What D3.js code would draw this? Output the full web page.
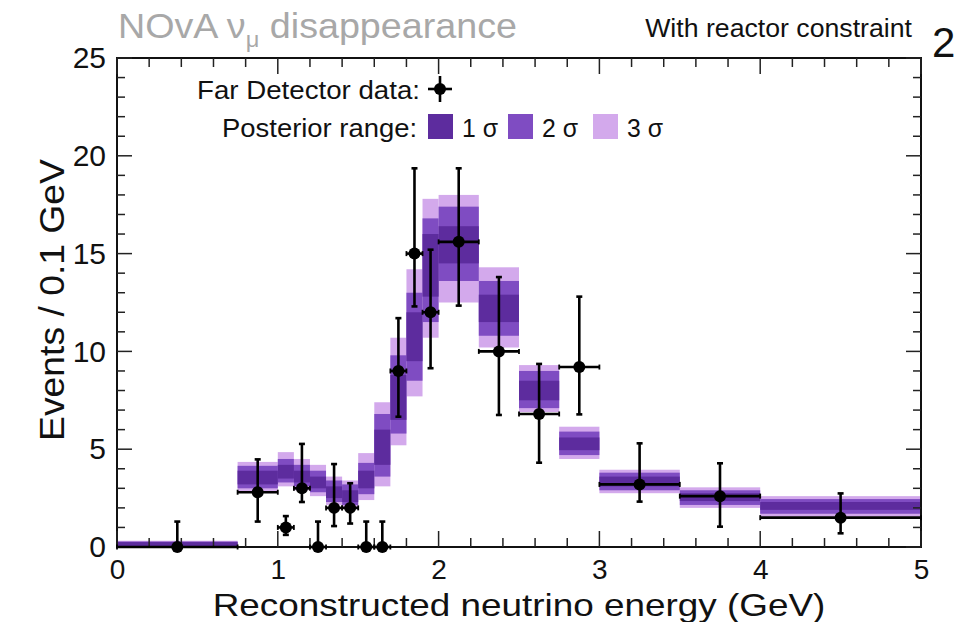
<!DOCTYPE html>
<html><head><meta charset="utf-8">
<script src="https://cdn.jsdelivr.net/npm/d3@7"></script>
<style>body{margin:0;background:#fff;} svg{display:block;font-family:"Liberation Sans",Arial,Helvetica,sans-serif;}</style>
</head><body>
<svg id="c" width="961" height="622"></svg>
<script>
// Bin edges (GeV)
const binLo = [0,0.75,1.0,1.1,1.2,1.3,1.4,1.5,1.6,1.7,1.8,1.9,2.0,2.25,2.5,2.75,3.0,3.5,4.0];
const binHi = [0.75,1.0,1.1,1.2,1.3,1.4,1.5,1.6,1.7,1.8,1.9,2.0,2.25,2.5,2.75,3.0,3.5,4.0,5.0];
// Posterior bands (events / 0.1 GeV)
const s3Lo = [0.0,2.85,3.1,2.9,2.6,2.15,2.0,2.4,3.1,5.2,7.7,10.7,12.5,10.2,6.9,4.5,2.75,2.0,1.55];
const s3Hi = [0.32,4.35,4.85,4.5,4.2,3.6,3.4,4.8,7.4,10.7,14.2,17.8,18.0,14.3,9.3,6.15,3.95,3.05,2.6];
const s2Lo = [0.02,3.0,3.3,3.1,2.8,2.3,2.15,2.7,3.6,5.8,8.5,11.5,13.6,10.8,7.1,4.7,2.9,2.15,1.7];
const s2Hi = [0.28,4.15,4.5,4.2,3.9,3.4,3.2,4.3,6.8,9.8,13.0,16.8,17.4,13.6,9.0,5.9,3.8,2.9,2.45];
const s1Lo = [0.05,3.2,3.5,3.3,3.0,2.5,2.3,3.0,4.2,6.5,9.5,12.8,14.5,11.5,7.5,4.95,3.1,2.35,1.9];
const s1Hi = [0.25,3.9,4.2,3.9,3.6,3.1,2.9,3.9,6.0,8.8,12.0,16.0,16.4,12.9,8.5,5.6,3.6,2.75,2.3];
// Far Detector data
const dataX   = [0.375,0.875,1.05,1.15,1.25,1.35,1.45,1.55,1.65,1.75,1.85,1.95,2.125,2.375,2.625,2.875,3.25,3.75,4.5];
const dataXErr= [0.375,0.125,0.05,0.05,0.05,0.05,0.05,0.05,0.05,0.05,0.05,0.05,0.125,0.125,0.125,0.125,0.25,0.25,0.5];
const dataY   = [0,2.8,1.0,3.0,0,2.0,2.0,0,0,9.0,15.0,12.0,15.6,10.0,6.8,9.2,3.2,2.6,1.5];
const dataYUp = [1.3,4.48,1.58,5.27,1.3,4.24,3.26,1.3,1.3,11.7,19.36,15.2,19.36,13.8,9.36,12.8,5.3,4.28,2.74];
const dataYLo = [0,1.3,0.62,2.3,0,1.07,1.2,0,0,6.66,12.3,9.14,12.34,6.75,4.31,6.78,2.32,1.04,0.7];

const xTicks = [0,1,2,3,4,5];
const yTicks = [0,5,10,15,20,25];
const legendLabels = ["1 σ","2 σ","3 σ"];

const col1 = "#5d2c9e", col2 = "#7f4cc2", col3 = "#d3a9ec";
const svg = d3.select("#c");
const L=117, R=921, T=58, B=547;
const x = d3.scaleLinear().domain([0,5]).range([L,R]);
const y = d3.scaleLinear().domain([0,25]).range([B,T]);

// text helper: place text at (px,py) with horizontal stretch so it spans width w
function fitText(parent, str, px, py, size, w, opts={}) {
  const g = parent.append("g");
  const t = g.append("text").attr("font-size",size).attr("fill",opts.fill||"#111")
    .attr("text-anchor",opts.anchor||"start").text(str);
  const nat = t.node().getComputedTextLength();
  const s = w ? w/nat : 1;
  g.attr("transform",`translate(${px},${py})${opts.rotate?` rotate(${opts.rotate})`:""} scale(${s},1)`);
  return t;
}

// bands
const bins = binLo.map((lo,i)=>({lo,hi:binHi[i],i}));
const bands = [[s3Lo,s3Hi,col3],[s2Lo,s2Hi,col2],[s1Lo,s1Hi,col1]];
bands.forEach(([lo,hi,c])=>{
  svg.append("g").selectAll("rect").data(bins).join("rect")
    .attr("x",d=>x(d.lo)).attr("width",d=>x(d.hi)-x(d.lo))
    .attr("y",d=>y(hi[d.i])).attr("height",d=>y(lo[d.i])-y(hi[d.i]))
    .attr("fill",c);
});

// axes frame & ticks
const axg = svg.append("g");
axg.append("rect").attr("x",L).attr("y",T).attr("width",R-L).attr("height",B-T)
  .attr("fill","none").attr("stroke","#111").attr("stroke-width",2);
const xMinor = d3.range(0,5.001,0.2);
const yMinor = d3.range(0,25.001,1);
xMinor.forEach(v=>{
  const major = Math.abs(v-Math.round(v))<1e-6;
  const len = major?16:9;
  axg.append("line").attr("x1",x(v)).attr("x2",x(v)).attr("y1",B).attr("y2",B-len).attr("stroke","#222").attr("stroke-width",1.5);
  axg.append("line").attr("x1",x(v)).attr("x2",x(v)).attr("y1",T).attr("y2",T+len).attr("stroke","#222").attr("stroke-width",1.5);
});
yMinor.forEach(v=>{
  const major = v%5===0;
  const len = major?15:8;
  axg.append("line").attr("y1",y(v)).attr("y2",y(v)).attr("x1",L).attr("x2",L+len).attr("stroke","#222").attr("stroke-width",1.5);
  axg.append("line").attr("y1",y(v)).attr("y2",y(v)).attr("x1",R).attr("x2",R-len).attr("stroke","#222").attr("stroke-width",1.5);
});
const xAxis = d3.axisBottom(x).tickValues(xTicks).tickSize(0).tickPadding(12).tickFormat(d3.format("d"));
const gx = svg.append("g").attr("transform",`translate(0,${B})`).call(xAxis);
gx.select(".domain").remove();
gx.selectAll("text").attr("font-size",28).attr("fill","#111").attr("font-family","Liberation Sans, Arial, sans-serif");
const yAxis = d3.axisLeft(y).tickValues(yTicks).tickSize(0).tickPadding(11).tickFormat(d3.format("d"));
const gy = svg.append("g").attr("transform",`translate(${L},0)`).call(yAxis);
gy.select(".domain").remove();
gy.selectAll("text").attr("font-size",30).attr("fill","#111").attr("font-family","Liberation Sans, Arial, sans-serif");

// data points
const pts = dataX.map((v,i)=>({x:v,xe:dataXErr[i],y:dataY[i],up:dataYUp[i],lo:dataYLo[i]}));
const dg = svg.append("g").attr("stroke","#000").attr("stroke-width",2.6);
pts.forEach(p=>{
  dg.append("line").attr("x1",x(p.x-p.xe)).attr("x2",x(p.x+p.xe)).attr("y1",y(p.y)).attr("y2",y(p.y));
  dg.append("line").attr("x1",x(p.x)).attr("x2",x(p.x)).attr("y1",y(p.lo)).attr("y2",y(p.up));
  dg.append("line").attr("x1",x(p.x)-3).attr("x2",x(p.x)+3).attr("y1",y(p.up)).attr("y2",y(p.up));
  if (p.lo < p.y) dg.append("line").attr("x1",x(p.x)-3).attr("x2",x(p.x)+3).attr("y1",y(p.lo)).attr("y2",y(p.lo));
  dg.append("line").attr("x1",x(p.x-p.xe)).attr("x2",x(p.x-p.xe)).attr("y1",y(p.y)-2.5).attr("y2",y(p.y)+2.5).attr("stroke-width",1.8);
  dg.append("line").attr("x1",x(p.x+p.xe)).attr("x2",x(p.x+p.xe)).attr("y1",y(p.y)-2.5).attr("y2",y(p.y)+2.5).attr("stroke-width",1.8);
});
svg.append("g").selectAll("circle").data(pts).join("circle")
  .attr("cx",d=>x(d.x)).attr("cy",d=>y(d.y)).attr("r",6).attr("fill","#000");

// legend
const lg = svg.append("g");
fitText(lg,"Far Detector data:",420,99,25,223,{anchor:"end"});
lg.append("line").attr("x1",440).attr("x2",440).attr("y1",76).attr("y2",102).attr("stroke","#000").attr("stroke-width",2.6);
lg.append("line").attr("x1",428).attr("x2",452).attr("y1",89).attr("y2",89).attr("stroke","#000").attr("stroke-width",2.6);
lg.append("circle").attr("cx",440).attr("cy",89).attr("r",6).attr("fill","#000");
fitText(lg,"Posterior range:",417,137,25,195,{anchor:"end"});
const swX = [428,508,593];
[col1,col2,col3].forEach((c,i)=>{
  lg.append("rect").attr("x",swX[i]).attr("y",114).attr("width",25).attr("height",25).attr("fill",c);
  fitText(lg,legendLabels[i],swX[i]+34,137,25,36);
});

// titles
const tg = svg.append("g");
const tt = tg.append("text").attr("font-size",35).attr("fill","#a8a8a8");
tt.append("tspan").text("NOvA ν");
tt.append("tspan").attr("font-size",22).attr("dy",9).text("μ");
tt.append("tspan").attr("dy",-9).text(" disappearance");
const tw = tt.node().getComputedTextLength();
tg.attr("transform",`translate(118,38) scale(${399/tw},1)`);
fitText(svg,"With reactor constraint",912,37,25,267,{anchor:"end"});
fitText(svg,"2",932,57,42,0);

// axis titles
fitText(svg,"Reconstructed neutrino energy (GeV)",519,616,31,613,{anchor:"middle"});
fitText(svg,"Events / 0.1 GeV",64,300,35,282,{anchor:"middle",rotate:-90});
</script>
</body></html>
